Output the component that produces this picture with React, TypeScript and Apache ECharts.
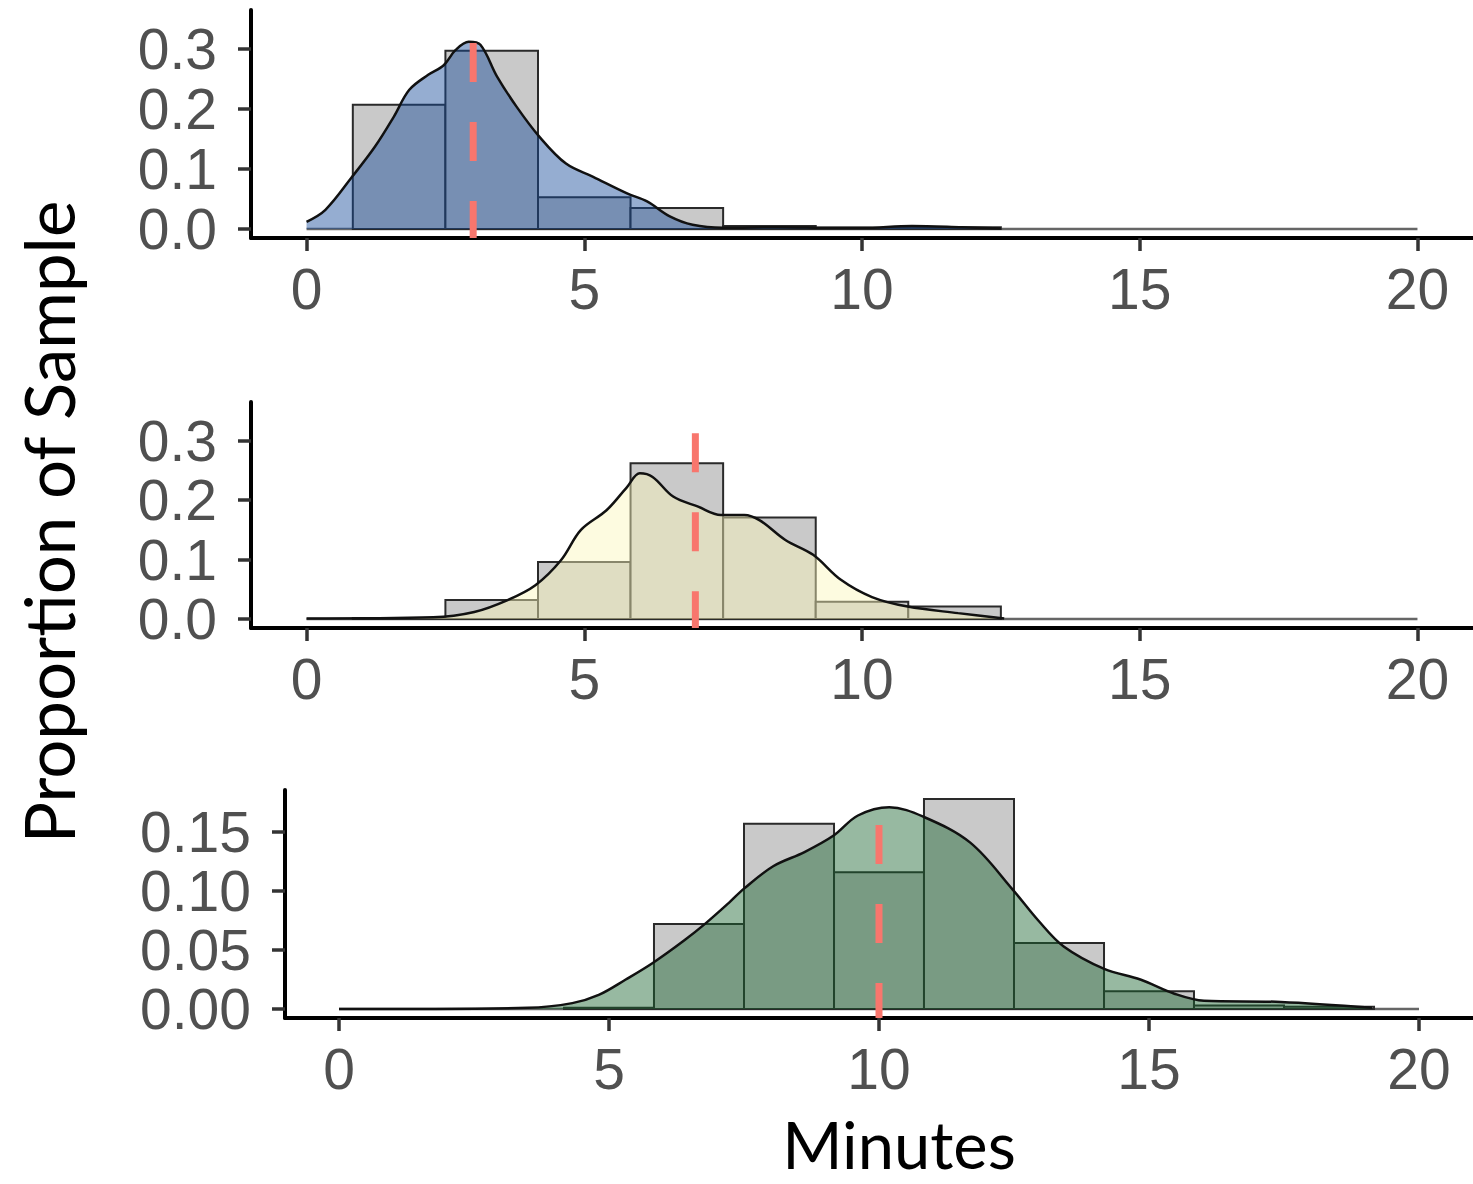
import React, { useEffect, useRef } from "react";
import * as echarts from "echarts";

// ---- data ----
const xTicks = [0, 5, 10, 15, 20];
const yTicksTop = [0, 0.1, 0.2, 0.3];
const yTicksBottom = [0, 0.05, 0.1, 0.15];

const binEdges = [0.833, 2.5, 4.167, 5.833, 7.5, 9.167, 10.833, 12.5, 14.167, 15.833, 17.5, 19.167];

const hist1 = [0.207, 0.297, 0.053, 0.035, 0.005, 0.002, 0.003, 0, 0, 0, 0];
const hist2 = [0.002, 0.032, 0.096, 0.262, 0.171, 0.029, 0.021, 0, 0, 0, 0];
const hist3 = [0, 0, 0.001, 0.072, 0.157, 0.116, 0.178, 0.056, 0.015, 0.003, 0.002];

const densX1 = [0, 0.34, 0.82, 1.23, 1.57, 1.85, 2.19, 2.47, 2.68, 2.92, 3.13, 3.43, 3.78, 4.19, 4.67, 5.16, 5.78, 6.13, 6.54, 6.95, 7.5, 8.5, 9.5, 10.0, 10.9, 11.8, 12.5];
const densY1 = [0.012, 0.032, 0.087, 0.137, 0.187, 0.232, 0.257, 0.273, 0.298, 0.312, 0.307, 0.254, 0.204, 0.154, 0.109, 0.087, 0.059, 0.046, 0.021, 0.007, 0.002, 0.003, 0.002, 0.002, 0.005, 0.003, 0.001];

const densX2 = [0, 2.28, 3.02, 3.62, 4.12, 4.58, 4.94, 5.4, 5.77, 6.0, 6.23, 6.6, 7.05, 7.46, 7.88, 8.16, 8.62, 9.12, 9.62, 10.18, 10.82, 11.73, 12.56];
const densY2 = [0.001, 0.003, 0.012, 0.032, 0.057, 0.099, 0.15, 0.183, 0.222, 0.245, 0.239, 0.206, 0.189, 0.175, 0.175, 0.166, 0.133, 0.108, 0.066, 0.037, 0.021, 0.01, 0.001];

const densX3 = [0, 3.5, 4.32, 4.81, 5.31, 5.81, 6.39, 6.8, 7.22, 7.5, 8.04, 8.62, 9.16, 9.61, 10.19, 10.82, 11.69, 12.48, 12.95, 13.42, 14.17, 14.84, 15.47, 16.02, 17.44, 19.13];
const densY3 = [0, 0.001, 0.005, 0.012, 0.025, 0.039, 0.058, 0.073, 0.09, 0.102, 0.121, 0.133, 0.147, 0.164, 0.171, 0.163, 0.141, 0.101, 0.075, 0.053, 0.034, 0.025, 0.013, 0.007, 0.006, 0.001];

const meanLines = [3, 7, 10];
const meanTops = [0.31, 0.3126, 0.156];

const yTitle = "Proportion of Sample";
const xTitle = "Minutes";

export default function App() {
  const ref = useRef<HTMLDivElement>(null);
  useEffect(() => {
    const chart = echarts.init(ref.current!, null, { renderer: "svg" });

    const panels = [
      { grid: { left: 251, top: 10, width: 1223, height: 228 }, xmin: -1, xmax: 21, ymin: -0.015, ymax: 0.365, yt: yTicksTop, dec: 1, hist: hist1, dx: densX1, dy: densY1, fill: "rgba(20,73,153,0.45)" },
      { grid: { left: 251, top: 402, width: 1223, height: 226 }, xmin: -1, xmax: 21, ymin: -0.015, ymax: 0.365, yt: yTicksTop, dec: 1, hist: hist2, dx: densX2, dy: densY2, fill: "rgba(250,246,186,0.45)" },
      { grid: { left: 285, top: 790, width: 1188, height: 228 }, xmin: -1, xmax: 21, ymin: -0.0076, ymax: 0.1856, yt: yTicksBottom, dec: 2, hist: hist3, dx: densX3, dy: densY3, fill: "rgba(24,100,46,0.45)" },
    ];

    const labelStyle = { fontSize: 57, color: "#505050", fontFamily: "Liberation Sans, Arial, sans-serif" };

    const grid = panels.map((p) => p.grid);
    const xAxis = panels.map((p, i) => ({
      type: "value",
      gridIndex: i,
      min: p.xmin,
      max: p.xmax,
      splitLine: { show: false },
      axisLine: { show: true, onZero: false, lineStyle: { color: "#000", width: 4 } },
      axisTick: { show: true, length: 13, customValues: xTicks, lineStyle: { color: "#333", width: 3.5 } },
      axisLabel: { ...labelStyle, margin: 22, customValues: xTicks, formatter: (v: number) => String(v) },
    }));
    const yAxis = panels.map((p, i) => ({
      type: "value",
      gridIndex: i,
      min: p.ymin,
      max: p.ymax,
      splitLine: { show: false },
      axisLine: { show: true, onZero: false, lineStyle: { color: "#000", width: 4 } },
      axisTick: { show: true, length: 13, customValues: p.yt, lineStyle: { color: "#333", width: 3.5 } },
      axisLabel: { ...labelStyle, margin: 34, customValues: p.yt, formatter: (v: number) => v.toFixed(p.dec) },
    }));

    const series: any[] = [];
    panels.forEach((p, i) => {
      series.push({
        type: "line",
        xAxisIndex: i,
        yAxisIndex: i,
        data: [[0, 0], [20, 0]],
        symbol: "none",
        silent: true,
        z: 1,
        lineStyle: { color: "#666", width: 2.5 },
      });
      series.push({
        type: "custom",
        xAxisIndex: i,
        yAxisIndex: i,
        z: 2,
        silent: true,
        encode: { x: [0, 1], y: 2 },
        data: p.hist.map((h, j) => [binEdges[j], binEdges[j + 1], h]),
        renderItem: (params: any, api: any) => {
          const h = api.value(2);
          if (!(h > 0)) return null;
          const a = api.coord([api.value(0), 0]);
          const b = api.coord([api.value(1), h]);
          return {
            type: "rect",
            shape: { x: a[0], y: b[1], width: b[0] - a[0], height: a[1] - b[1] },
            style: { fill: "#c9c9c9", stroke: "#2a2a2a", lineWidth: 2 },
          };
        },
      });
      series.push({
        type: "line",
        xAxisIndex: i,
        yAxisIndex: i,
        z: 3,
        silent: true,
        smooth: 0.35,
        symbol: "none",
        data: p.dx.map((x, j) => [x, p.dy[j]]),
        lineStyle: { color: "#111", width: 2.5 },
        areaStyle: { color: p.fill, opacity: 1 },
      });
      series.push({
        type: "line",
        xAxisIndex: i,
        yAxisIndex: i,
        z: 4,
        silent: true,
        symbol: "none",
        data: [[meanLines[i], meanTops[i]], [meanLines[i], p.ymin]],
        lineStyle: { color: "#F8766D", width: 7, type: [39, 40], cap: "butt" },
      });
    });

    chart.setOption({
      animation: false,
      backgroundColor: "#fff",
      grid,
      xAxis,
      yAxis,
      series,
      graphic: [
        {
          type: "text",
          x: 48,
          y: 522,
          rotation: Math.PI / 2,
          style: { text: yTitle, fontSize: 69, lineHeight: 60, fontFamily: "Lato, sans-serif", fill: "#000", align: "center", verticalAlign: "middle" },
        },
        {
          type: "text",
          x: 899,
          y: 1144,
          style: { text: xTitle, fontSize: 65, lineHeight: 56, fontFamily: "Lato, sans-serif", fill: "#000", align: "center", verticalAlign: "middle" },
        },
      ],
    });
    return () => chart.dispose();
  }, []);
  return <div ref={ref} style={{ position: "absolute", left: 0, top: 0, width: 1473, height: 1184 }} />;
}
